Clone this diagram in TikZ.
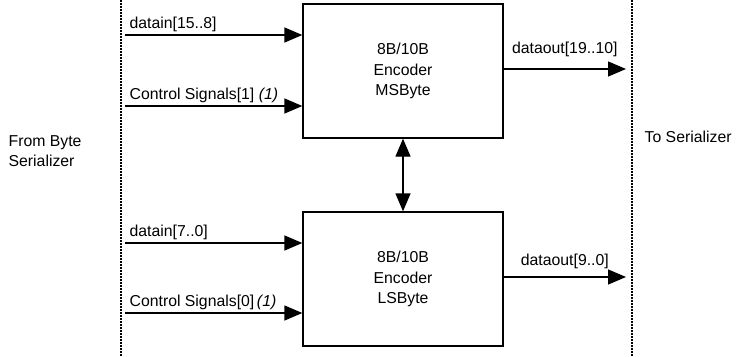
\documentclass[tikz,border=0pt]{standalone}
\usepackage{fontspec}
\setmainfont{Liberation Sans}
\usetikzlibrary{arrows.meta}
\tikzset{
  encbox/.style={draw,line width=1.3pt,minimum width=200pt,minimum height=134pt,
                 align=center,font=\fontsize{15.8}{20.5}\selectfont},
  sig/.style={font=\fontsize{15.8}{20}\selectfont,inner sep=0pt},
  bound/.style={line width=1.5pt,dash pattern=on 1.5pt off 1.5pt},
}
\begin{document}
\begin{tikzpicture}[x=1pt,y=-1pt,line width=1.3pt,>={Triangle[length=18pt,width=15pt]}]
  \useasboundingbox (0,0) rectangle (754,356);
  % encoders
  \node[encbox] (msb) at (403,71)  {8B/10B\\Encoder\\MSByte};
  \node[encbox] (lsb) at (403,279) {8B/10B\\Encoder\\LSByte};
  \draw[<->] (msb) -- (lsb);
  % boundaries
  \draw[bound] (121,0) -- (121,356);
  \draw[bound] (632,0) -- (632,356);
  \node[sig,anchor=west,align=left] (from) at (8,151) {From Byte\\Serializer};
  \node[sig,anchor=west] (to) at (644,137) {To Serializer};
  % inputs
  \coordinate (i1) at (125,35);
  \coordinate (i2) at (125,106);
  \coordinate (i3) at (125,243);
  \coordinate (i4) at (125,313);
  \draw[->] (i1) -- (i1 -| msb.west) node[sig,pos=0,above right,xshift=4pt,yshift=3pt] {datain[15..8]};
  \draw[->] (i2) -- (i2 -| msb.west) node[sig,pos=0,above right,xshift=4pt,yshift=3pt] {Control Signals[1] \textit{(1)}};
  \draw[->] (i3) -- (i3 -| lsb.west) node[sig,pos=0,above right,xshift=4pt,yshift=3pt] {datain[7..0]};
  \draw[->] (i4) -- (i4 -| lsb.west) node[sig,pos=0,above right,xshift=4pt,yshift=3pt] {Control Signals[0]\,\textit{(1)}};
  % outputs
  \coordinate (o1) at (626,69);
  \coordinate (o2) at (626,277);
  \draw[->] (o1 -| msb.east) -- (o1) node[sig,midway,above,yshift=12pt] {dataout[19..10]};
  \draw[->] (o2 -| lsb.east) -- (o2) node[sig,midway,above,yshift=8pt] {dataout[9..0]};
\end{tikzpicture}
\end{document}
